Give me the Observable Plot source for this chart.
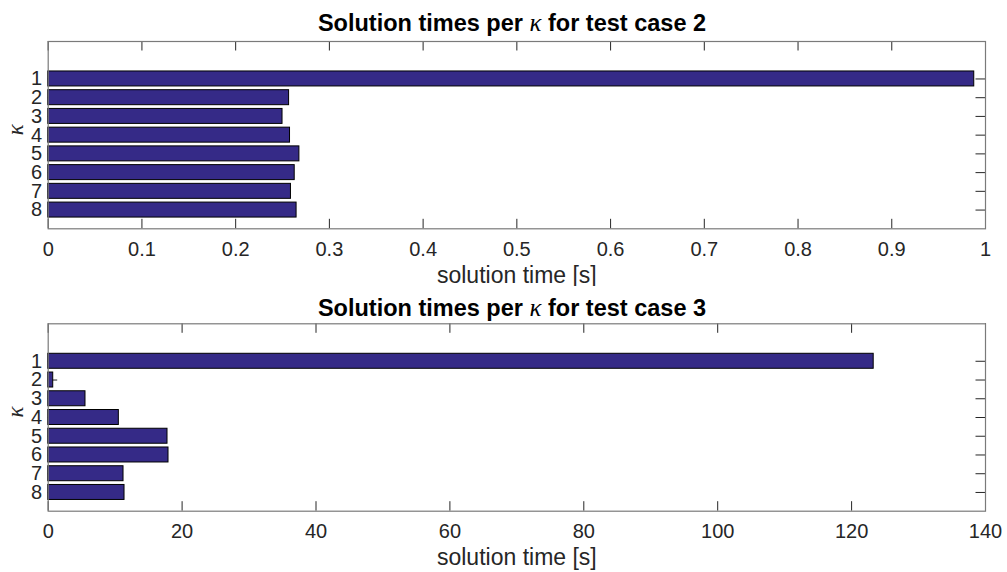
<!DOCTYPE html>
<html>
<head>
<meta charset="utf-8">
<script src="https://cdn.jsdelivr.net/npm/d3@7"></script>
<script src="https://cdn.jsdelivr.net/npm/@observablehq/plot@0.6"></script>
<style>
  body { margin: 0; background: #fff; }
  #root { position: relative; width: 1007px; height: 572px; overflow: hidden; font-family: "Liberation Sans", Arial, sans-serif; }
  .panel { position: absolute; left: 0; width: 1007px; height: 286px; }
  .title { position: absolute; text-align: center; font-weight: bold; font-size: 23.5px; color: #000; white-space: nowrap; line-height: 1; }
  .title i { font-family: "Liberation Serif", "DejaVu Serif", serif; font-weight: normal; font-style: italic; font-size: 25px; }
  svg { display: block; }
</style>
</head>
<body>
<div id="root"></div>
<script>
// ---- data ----
const kappa = [1, 2, 3, 4, 5, 6, 7, 8];
const times2 = [0.988, 0.257, 0.250, 0.258, 0.268, 0.263, 0.259, 0.265];
const times3 = [123.3, 0.75, 5.57, 10.55, 17.82, 17.97, 11.25, 11.4];
const xTicks2 = [0, 0.1, 0.2, 0.3, 0.4, 0.5, 0.6, 0.7, 0.8, 0.9, 1];
const xTickLabels2 = ["0", "0.1", "0.2", "0.3", "0.4", "0.5", "0.6", "0.7", "0.8", "0.9", "1"];
const xTicks3 = [0, 20, 40, 60, 80, 100, 120, 140];
const xTickLabels3 = ["0", "20", "40", "60", "80", "100", "120", "140"];
const titles = ["Solution times per κ for test case 2", "Solution times per κ for test case 3"];
const xLabel = "solution time [s]";
const yLabel = "κ";

const barFill = "#352a87";
const axisColor = "#262626";
const frameColor = "#7a7a7a";

function panel(values, xTicks, xTickLabels, xDomain, mt, mb) {
  const W = 1007, H = 286, ml = 47.7, mr = 22;
  const fw = W - ml - mr, fh = H - mt - mb;
  const tick = 9.5;
  const bars = kappa.map((k, i) => ({k, v: values[i]}));
  return Plot.plot({
    width: W, height: H,
    marginLeft: ml, marginRight: mr, marginTop: mt, marginBottom: mb,
    x: {domain: xDomain, axis: null},
    y: {domain: [-1, 9], reverse: true, axis: null},
    style: {fontFamily: "Liberation Sans, Arial, sans-serif", background: "white", overflow: "visible"},
    marks: [
      // inward ticks
      Plot.tickX(xTicks, {x: d => d, stroke: axisColor, strokeWidth: 1, insetBottom: fh - tick}),
      Plot.tickX(xTicks, {x: d => d, stroke: axisColor, strokeWidth: 1, insetTop: fh - tick}),
      Plot.tickY(kappa, {y: d => d, stroke: axisColor, strokeWidth: 1, insetRight: fw - tick}),
      Plot.tickY(kappa, {y: d => d, stroke: axisColor, strokeWidth: 1, insetLeft: fw - tick}),
      // bars
      Plot.rect(bars, {x1: 0, x2: "v", y1: d => d.k - 0.4, y2: d => d.k + 0.4, fill: barFill, stroke: "#000", strokeWidth: 1}),
      Plot.frame({stroke: frameColor, strokeWidth: 1.2}),
      // tick labels
      Plot.text(xTicks, {x: d => d, text: (d, i) => xTickLabels[i], frameAnchor: "bottom", lineAnchor: "bottom", dy: 27, fontSize: 20, fill: axisColor}),
      Plot.text(kappa, {y: d => d, text: d => String(d), frameAnchor: "left", textAnchor: "end", dx: -6, fontSize: 20, fill: axisColor}),
      // axis labels
      Plot.text([xLabel], {text: d => d, frameAnchor: "bottom", lineAnchor: "bottom", dy: 54, fontSize: 23, fill: axisColor}),
      Plot.text([yLabel], {text: d => d, frameAnchor: "left", dx: -33, rotate: -90, fontSize: 23, fontStyle: "italic", fontFamily: "Liberation Serif, DejaVu Serif, serif", fill: axisColor})
    ]
  });
}

const root = document.getElementById("root");
const cfg = [
  {values: times2, ticks: xTicks2, labels: xTickLabels2, domain: [0, 1], mt: 41, mb: 57.7, top: 0, titleBase: 31},
  {values: times3, ticks: xTicks3, labels: xTickLabels3, domain: [0, 140], mt: 37.3, mb: 61.3, top: 286, titleBase: 316}
];
cfg.forEach((c, i) => {
  const div = document.createElement("div");
  div.className = "panel";
  div.style.top = c.top + "px";
  div.appendChild(panel(c.values, c.ticks, c.labels, c.domain, c.mt, c.mb));
  root.appendChild(div);
  const t = document.createElement("div");
  t.className = "title";
  const parts = titles[i].split("κ");
  t.append(parts[0]);
  const it = document.createElement("i");
  it.textContent = "κ";
  t.append(it);
  t.append(parts[1]);
  t.style.top = (c.titleBase - 23.5 * 0.9) + "px";
  t.style.left = "0px";
  t.style.width = (512 * 2) + "px";
  root.appendChild(t);
});
</script>
</body>
</html>
